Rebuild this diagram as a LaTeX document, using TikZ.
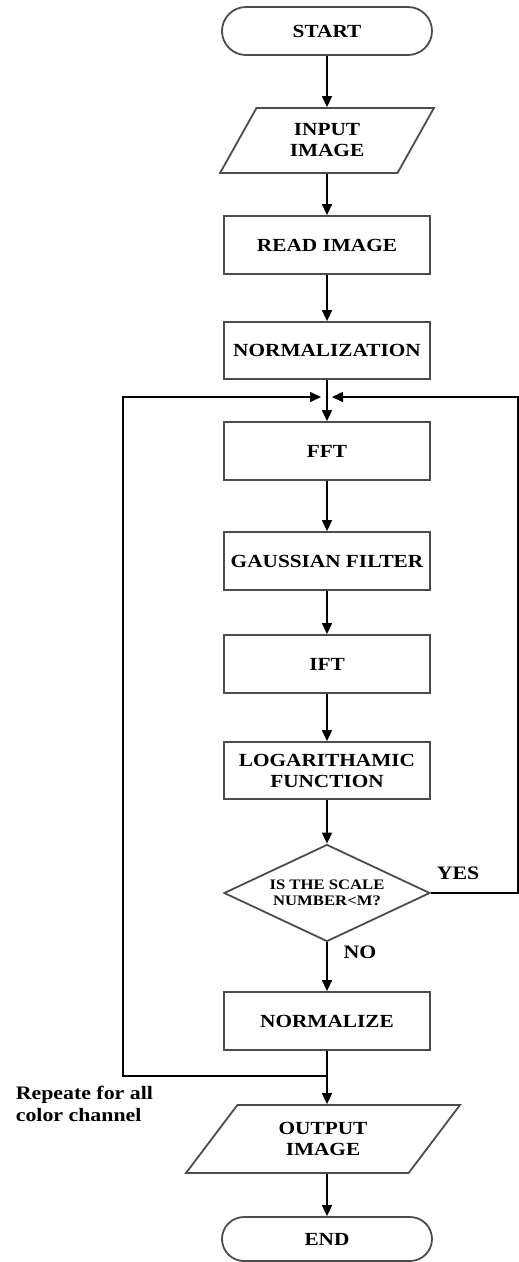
\documentclass[tikz,border=0pt]{standalone}
\usepackage{fontspec}
\setmainfont{Liberation Serif}[FakeStretch=1.15]
\usetikzlibrary{shapes.geometric,arrows.meta}

\newcommand{\flowfont}{\fontsize{18.5}{21}\selectfont\bfseries}
\newcommand{\askfont}{\fontsize{14.5}{16}\selectfont\bfseries}
\newcommand{\notefont}{\fontsize{19}{22}\selectfont\bfseries}

\begin{document}
\begin{tikzpicture}[x=1pt, y=-1pt, >={Triangle[length=11pt,width=10pt]},
  line width=1.6pt,
  box/.style={draw=black!70, line width=1.8pt, minimum width=206pt,
    minimum height=58pt, inner sep=0pt, font=\flowfont, align=center},
  term/.style={box, minimum width=210pt, minimum height=48pt,
    rounded corners=24pt},
  io/.style={box, shape=trapezium, trapezium stretches=true},
  decision/.style={box, shape=diamond, minimum width=206pt,
    minimum height=97pt, aspect=2.12, font=\askfont},
  lbl/.style={inner sep=0pt, font=\notefont}]

\useasboundingbox (0,0) rectangle (519,1262);

% Flow boxes
\node[term] (start) at (327,31) {START};
\node[io, minimum width=214pt, minimum height=65pt,
  trapezium left angle=60, trapezium right angle=120] (input) at (327,140.5) {INPUT\\IMAGE};
\node[box] (read) at (327,245) {READ IMAGE};
\node[box, minimum height=57pt] (norm) at (327,350.5) {NORMALIZATION};
\node[box] (fft) at (327,451) {FFT};
\node[box] (gauss) at (327,561) {GAUSSIAN FILTER};
\node[box] (ift) at (327,664) {IFT};
\node[box, minimum height=57pt] (log) at (327,770.5) {LOGARITHAMIC\\FUNCTION};
\node[decision] (scale) at (327,893) {IS THE SCALE\\NUMBER<M?};
\node[box] (normalize) at (327,1021) {NORMALIZE};
\node[io, minimum width=274pt, minimum height=68pt,
  trapezium left angle=51.5, trapezium right angle=128.5] (output) at (323,1139) {OUTPUT\\IMAGE};
\node[term, minimum height=44pt, rounded corners=22pt] (end) at (327,1239) {END};

% Labels
\node[lbl] (yes) at (458,873) {YES};
\node[lbl] (no) at (360,952) {NO};
\node[lbl, anchor=west, align=left] (repeat) at (15,1104) {Repeate for all\\color channel};

% Loop corners
\coordinate (merge) at (327,397);
\coordinate (lefttop) at (123,397);
\coordinate (righttop) at (518,397);
\coordinate (rightmid) at (518,893);
\coordinate (split) at (327,1076);
\coordinate (leftbot) at (123,1076);

% Main flow
\draw[->] (start) -- (input);
\draw[->] (input) -- (read);
\draw[->] (read) -- (norm);
\draw[->] (norm) -- (fft);
\draw[->] (fft) -- (gauss);
\draw[->] (gauss) -- (ift);
\draw[->] (ift) -- (log);
\draw[->] (log) -- (scale);
\draw[->] (scale) -- (normalize);
\draw (normalize) -- (split);
\draw[->] (split) -- (split |- output.north);
\draw[->] (end.north |- output.south) -- (end);

% Loops back to FFT
\draw[->] (split) -- (leftbot) -- (lefttop) -- ([xshift=-6pt]merge);
\draw[->] (scale.east) -- (rightmid) -- (righttop) -- ([xshift=5pt]merge);

\end{tikzpicture}
\end{document}
